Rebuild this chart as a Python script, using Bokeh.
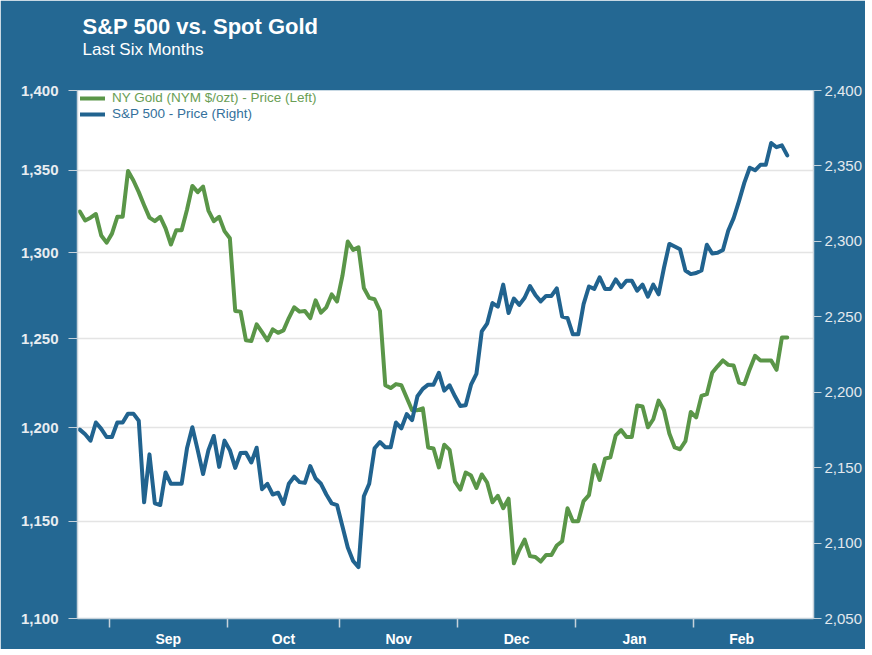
from datetime import date
from bokeh.plotting import figure
from bokeh.models import (Range1d, LinearScale, LinearAxis, FixedTicker, NumeralTickFormatter,
                          Legend, LegendItem, Title)
from bokeh.embed import file_html
from bokeh.resources import INLINE

# ---------------- data ----------------
TITLE = "S&P 500 vs. Spot Gold"
SUBTITLE = "Last Six Months"
GOLD_LABEL = "NY Gold (NYM $/ozt) - Price (Left)"
SPX_LABEL = "S&P 500 - Price (Right)"

YEAR_MONTHS = [(2016, 8), (2016, 9), (2016, 10), (2016, 11), (2016, 12), (2017, 1), (2017, 2)]
MONTH_NAMES = ["Aug", "Sep", "Oct", "Nov", "Dec", "Jan", "Feb"]
AUG_DAYS = [24, 25, 26, 29, 30, 31]
SEP_DAYS = [1, 2, 5, 6, 7, 8, 9, 12, 13, 14, 15, 16, 19, 20, 21, 22, 23, 26, 27, 28, 29, 30]
OCT_DAYS = [3, 4, 5, 6, 7, 10, 11, 12, 13, 14, 17, 18, 19, 20, 21, 24, 25, 26, 27, 28, 31]
NOV_DAYS = [1, 2, 3, 4, 7, 8, 9, 10, 11, 14, 15, 16, 17, 18, 21, 22, 23, 24, 25, 28, 29, 30]
DEC_DAYS = [1, 2, 5, 6, 7, 8, 9, 12, 13, 14, 15, 16, 19, 20, 21, 22, 23, 26, 27, 28, 29, 30]
JAN_DAYS = [2, 3, 4, 5, 6, 9, 10, 11, 12, 13, 16, 17, 18, 19, 20, 23, 24, 25, 26, 27, 30, 31]
FEB_DAYS = [1, 2, 3, 6, 7, 8, 9, 10, 13, 14, 15, 16, 17, 20, 21, 22, 23, 24]
MONTH_DAYS = [AUG_DAYS, SEP_DAYS, OCT_DAYS, NOV_DAYS, DEC_DAYS, JAN_DAYS, FEB_DAYS]

GOLD = [1324.7, 1319.3, 1321.0, 1323.2, 1310.3, 1306.0, 1311.4, 1321.5, 1321.5, 1349.4,
        1343.6, 1336.5, 1328.5, 1321.0, 1318.9, 1321.5, 1314.6, 1304.9, 1313.5, 1313.5,
        1325.8, 1340.3, 1336.5, 1339.9, 1325.3, 1318.9, 1321.5, 1312.9, 1308.6, 1265.9,
        1265.5, 1249.0, 1248.6, 1258.2, 1253.7, 1249.0, 1255.3, 1253.3, 1254.7, 1261.8,
        1268.0, 1265.5, 1265.9, 1261.8, 1272.0, 1264.9, 1268.0, 1275.5, 1271.4, 1286.3,
        1306.7, 1301.7, 1303.2, 1279.2, 1273.5, 1272.7, 1265.9, 1223.7, 1222.1, 1224.3,
        1223.7, 1216.7, 1209.8, 1209.8, 1210.8, 1189.4, 1188.8, 1178.6, 1190.9, 1188.1,
        1171.0, 1166.7, 1175.8, 1174.2, 1167.6, 1174.8, 1170.5, 1160.0, 1163.4, 1156.8,
        1161.9, 1128.1, 1134.9, 1140.4, 1131.8, 1131.3, 1129.0, 1132.4, 1132.4, 1137.3,
        1139.5, 1156.8, 1150.0, 1150.0, 1160.6, 1163.8, 1179.9, 1171.8, 1183.3, 1184.1,
        1196.0, 1198.9, 1195.1, 1195.1, 1212.4, 1211.8, 1200.4, 1204.8, 1215.1, 1209.8,
        1197.0, 1189.4, 1188.4, 1192.8, 1208.8, 1205.8, 1217.7, 1218.7, 1230.7, 1234.3,
        1237.6, 1235.1, 1234.7, 1225.1, 1224.3, 1232.7, 1240.2, 1237.6, 1237.6, 1237.6,
        1232.3, 1250.6, 1250.6]

SPX = [2175.2, 2172.1, 2167.9, 2179.9, 2175.7, 2170.3, 2170.3, 2179.9, 2179.9, 2185.8,
       2185.8, 2181.1, 2127.0, 2158.8, 2126.3, 2125.2, 2146.8, 2139.3, 2139.3, 2139.3,
       2162.8, 2176.8, 2161.6, 2145.8, 2161.6, 2171.0, 2150.5, 2167.9, 2161.6, 2149.8,
       2159.7, 2159.9, 2153.4, 2163.2, 2135.7, 2139.3, 2132.2, 2133.4, 2125.9, 2139.3,
       2144.0, 2140.4, 2139.9, 2151.0, 2142.8, 2139.3, 2132.2, 2126.3, 2125.2, 2111.1,
       2097.0, 2088.1, 2084.1, 2131.0, 2139.3, 2162.8, 2167.0, 2163.5, 2163.5, 2179.9,
       2176.1, 2185.5, 2181.5, 2197.3, 2202.2, 2205.0, 2205.0, 2212.8, 2201.0, 2204.6,
       2197.3, 2190.9, 2191.4, 2205.0, 2212.1, 2240.3, 2245.4, 2259.1, 2256.7, 2271.3,
       2252.5, 2262.1, 2257.9, 2262.6, 2270.3, 2264.5, 2260.2, 2263.8, 2263.8, 2268.9,
       2250.1, 2249.2, 2238.4, 2238.4, 2258.4, 2270.1, 2268.5, 2276.2, 2268.5, 2268.5,
       2274.8, 2269.6, 2273.9, 2273.9, 2267.3, 2271.3, 2263.3, 2271.3, 2264.9, 2282.5,
       2298.3, 2296.6, 2294.8, 2280.7, 2278.3, 2279.0, 2280.7, 2297.8, 2291.9, 2292.4,
       2294.3, 2307.2, 2315.4, 2326.7, 2338.9, 2348.8, 2347.1, 2350.7, 2350.7, 2365.2,
       2362.4, 2363.6, 2357.0]

LEFT_TICKS = [1100, 1150, 1200, 1250, 1300, 1350, 1400]
RIGHT_TICKS = [2050, 2100, 2150, 2200, 2250, 2300, 2350, 2400]

# ---------------- derived positions ----------------
dates = [date(y, m, d) for (y, m), days in zip(YEAR_MONTHS, MONTH_DAYS) for d in days]
idx = list(range(len(dates)))

bounds, centers, overrides = [], [], {}
start = 0
for name, days in zip(MONTH_NAMES, MONTH_DAYS):
    end = start + len(days) - 1
    if start > 0:
        bounds.append(start - 0.5)
        c = (start + end) / 2.0
        centers.append(c)
        overrides[c] = name
    start = end + 1

# ---------------- styling ----------------
BG = "#246893"
GREEN = "#5A9648"
BLUE = "#21638F"
AXIS_C = "#C6D2DB"
FONT = "Liberation Sans"
FW, FH = 736, 528

p = figure(title=None, frame_width=FW, frame_height=FH, y_axis_type="log",
           y_range=Range1d(1100, 1400), x_range=Range1d(-0.43, 136.9),
           output_backend="svg", toolbar_location=None,
           min_border_left=77, min_border_right=40, min_border_top=90, min_border_bottom=29,
           background_fill_color="white", border_fill_color=BG, outline_line_color=None)
p.extra_y_ranges = {"sp": Range1d(2050, 2400)}
p.extra_y_scales = {"sp": LinearScale()}

r_gold = p.line(idx, GOLD, line_color=GREEN, line_width=4, line_cap="round", line_join="round")
r_spx = p.line(idx, SPX, y_range_name="sp", line_color=BLUE, line_width=4,
               line_cap="round", line_join="round")

# left axis (log)
ly = p.yaxis[0]
tk = FixedTicker(ticks=LEFT_TICKS)
ly.ticker = tk
p.ygrid.ticker = tk
ly.formatter = NumeralTickFormatter(format="0,0")
ly.major_label_text_font = FONT
ly.major_label_text_font_style = "bold"
ly.major_label_text_font_size = "15px"
ly.major_label_text_color = "#E8EDF1"
ly.major_tick_out = 9
ly.major_tick_in = 0
ly.major_label_standoff = 10
ly.major_tick_line_color = AXIS_C
ly.minor_tick_line_color = None
ly.axis_line_color = AXIS_C
ly.axis_line_width = 1.5

# right axis
ry = LinearAxis(y_range_name="sp", ticker=FixedTicker(ticks=RIGHT_TICKS),
                formatter=NumeralTickFormatter(format="0,0"))
ry.major_label_text_font = FONT
ry.major_label_text_font_size = "15px"
ry.major_label_text_color = "#E3E9EE"
ry.major_tick_out = 8
ry.major_tick_in = 0
ry.major_label_standoff = 3
ry.major_tick_line_color = AXIS_C
ry.minor_tick_line_color = None
ry.axis_line_color = AXIS_C
ry.axis_line_width = 1.5
p.add_layout(ry, "right")

# bottom axis
bx = p.xaxis[0]
bx.ticker = FixedTicker(ticks=centers, minor_ticks=bounds)
bx.major_label_overrides = overrides
bx.major_tick_line_color = None
bx.major_tick_out = 0
bx.major_tick_in = 0
bx.minor_tick_out = 9
bx.minor_tick_in = 0
bx.minor_tick_line_color = AXIS_C
bx.minor_tick_line_width = 1.5
bx.major_label_standoff = 3
bx.major_label_text_font = FONT
bx.major_label_text_font_style = "bold"
bx.major_label_text_font_size = "14px"
bx.major_label_text_color = "white"
bx.axis_line_color = AXIS_C
bx.axis_line_width = 1.5

p.xgrid.visible = False
p.ygrid.grid_line_color = "#E4E4E4"
p.ygrid.grid_line_width = 1.5

# legends (one per series so each label takes its own colour)
for r, lab, col, top in [(r_gold, GOLD_LABEL, "#6A9E55", 0), (r_spx, SPX_LABEL, "#33709B", 16)]:
    lg = Legend(items=[LegendItem(label=lab, renderers=[r])], location=(3, FH - top - 15),
                label_text_color=col, label_text_font=FONT, label_text_font_size="13.5px",
                glyph_width=25, glyph_height=14, label_height=14, label_standoff=7,
                padding=0, margin=0, spacing=0, border_line_color=None,
                background_fill_alpha=0)
    p.add_layout(lg)

# titles (first added sits closest to the plot); a blank spacer keeps the gap to the frame
p.add_layout(Title(text=" ", standoff=29, text_font_size="1px", text_color=BG), "above")
p.add_layout(Title(text=SUBTITLE, align="left", offset=5, standoff=0,
                   text_font=FONT, text_font_style="normal", text_font_size="17px",
                   text_color="white"), "above")
p.add_layout(Title(text=TITLE, align="left", offset=5, standoff=-2,
                   text_font=FONT, text_font_style="bold", text_font_size="22px",
                   text_color="white"), "above")

open("out.html", "w").write(file_html(p, INLINE))
